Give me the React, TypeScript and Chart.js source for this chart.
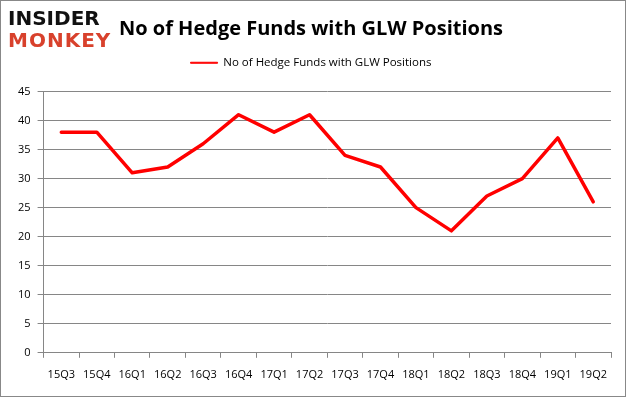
import React, { useEffect, useRef } from "react";
import { Chart, registerables } from "chart.js";

Chart.register(...registerables);

const categories = ["15Q3", "15Q4", "16Q1", "16Q2", "16Q3", "16Q4", "17Q1", "17Q2", "17Q3", "17Q4", "18Q1", "18Q2", "18Q3", "18Q4", "19Q1", "19Q2"];
const hedgeFunds = [38, 38, 31, 32, 36, 41, 38, 41, 34, 32, 25, 21, 27, 30, 37, 26];
const seriesName = "No of Hedge Funds with GLW Positions";
const chartTitle = "No of Hedge Funds with GLW Positions";

const legendSpacer = {
  id: "legendSpacer",
  beforeInit(chart: any) {
    const origFit = chart.legend.fit;
    chart.legend.fit = function () {
      origFit.bind(chart.legend)();
      this.height += 13;
    };
  },
};

export default function App() {
  const ref = useRef<HTMLCanvasElement | null>(null);
  useEffect(() => {
    if (!ref.current) return;
    const chart = new Chart(ref.current, {
      type: "line",
      data: {
        labels: categories,
        datasets: [
          {
            label: seriesName,
            data: hedgeFunds,
            borderColor: "#ff0000",
            backgroundColor: "#ff0000",
            borderWidth: 3.5,
            pointRadius: 0,
            tension: 0,
            borderCapStyle: "round",
            borderJoinStyle: "round",
          },
        ],
      },
      options: {
        responsive: false,
        animation: false,
        layout: { padding: { left: 11, right: 15, top: 0, bottom: 6 } },
        plugins: {
          title: {
            display: true,
            text: chartTitle,
            color: "#000",
            font: { family: "'Open Sans'", size: 20, weight: "bold" },
            padding: { top: 17, bottom: 6 },
          },
          legend: {
            display: true,
            labels: {
              boxWidth: 27,
              boxHeight: 1,
              color: "#000",
              font: { family: "'Open Sans'", size: 11.5 },
              padding: 10,
              generateLabels(c: any) {
                const items = Chart.defaults.plugins.legend.labels.generateLabels(c);
                return items.map((it: any) => ({ ...it, lineWidth: 1, lineCap: "butt" }));
              },
            },
          },
          tooltip: { enabled: false },
        },
        scales: {
          x: {
            offset: true,
            grid: {
              offset: true,
              drawOnChartArea: false,
              drawTicks: true,
              tickLength: 5,
              color: "#868686",
            },
            border: { color: "#868686" },
            ticks: {
              color: "#000",
              font: { family: "'Open Sans'", size: 11 },
              padding: 10,
              maxRotation: 0,
              autoSkip: false,
            },
          },
          y: {
            min: 0,
            max: 45,
            grid: { color: "#868686", tickLength: 6, drawTicks: true },
            border: { color: "#868686" },
            ticks: {
              stepSize: 5,
              color: "#000",
              font: { family: "'Open Sans'", size: 11 },
              padding: 7,
            },
          },
        },
      },
      plugins: [legendSpacer],
    });
    return () => chart.destroy();
  }, []);

  return (
    <div style={{ position: "fixed", left: 0, top: 0, width: 626, height: 397, background: "#fff" }}>
      <canvas ref={ref} width={626} height={397} style={{ position: "absolute", left: 0, top: 0 }} />
      <div style={{ position: "absolute", left: 0, top: 0, width: 626, height: 397, boxSizing: "border-box", border: "1px solid #888", pointerEvents: "none" }} />
      <div style={{ position: "absolute", left: 8, top: 8, fontFamily: "'DejaVu Sans'", fontWeight: 900, fontSize: 20, lineHeight: "20px", color: "#111" }}>INSIDER</div>
      <div style={{ position: "absolute", left: 8, top: 30, fontFamily: "'DejaVu Sans'", fontWeight: 900, fontSize: 20, lineHeight: "20px", color: "#d8412c", letterSpacing: 1 }}>MONKEY</div>
    </div>
  );
}
